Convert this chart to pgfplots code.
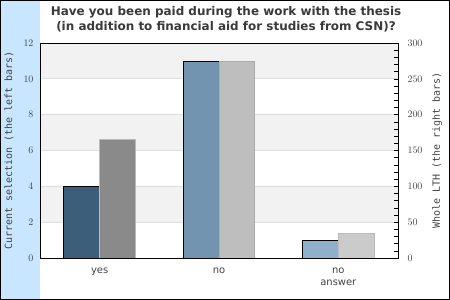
\documentclass[border=0pt]{standalone}
\usepackage{fontspec}
\setmainfont{DejaVu Sans}
\newfontfamily\monofont{DejaVu Sans Mono}
\usepackage{pgfplots}
\pgfplotsset{compat=1.18}
\definecolor{strip}{HTML}{C8E6FF}
\definecolor{band}{HTML}{F2F2F2}
\definecolor{gridc}{HTML}{DDDDDD}
\definecolor{lA}{HTML}{3D5E7A}
\definecolor{lB}{HTML}{7294B0}
\definecolor{lC}{HTML}{8EB0CC}
\definecolor{rA}{HTML}{8A8A8A}
\definecolor{rB}{HTML}{BEBEBE}
\definecolor{rC}{HTML}{CBCBCB}
\definecolor{rborder}{HTML}{BBBBBB}
\definecolor{txt}{HTML}{444444}
\definecolor{ttl}{HTML}{3A3A3A}
\begin{document}
\begin{tikzpicture}
\fill[white] (0bp,0bp) rectangle (450bp,300bp);
\fill[strip] (0bp,0bp) rectangle (40bp,300bp);
\useasboundingbox (0bp,0bp) rectangle (450bp,300bp);
\node[font=\fontsize{12}{15}\selectfont\bfseries, text=ttl, align=center] at (226bp,280.5bp)
  {Have you been paid during the work with the thesis\\(in addition to financial aid for studies from CSN)?};
\begin{axis}[
  at={(40bp,42bp)}, anchor=south west,
  scale only axis, width=358bp, height=215bp,
  xmin=-0.5, xmax=2.5, ymin=0, ymax=12,
  xtick={0,1,2}, xticklabels={yes,no,{no\\answer}},
  ytick={0,2,...,12},
  major tick length=0pt,
  tick label style={font=\fontsize{10}{12}\selectfont, text=txt},
  xticklabel style={align=center, anchor=north, yshift=-6.5bp},
  yticklabel style={xshift=-3bp},
  axis line style={black, line width=0.9bp},
  every axis y label/.style={at={(axis description cs:-0.0866,0.5)}, rotate=90, anchor=center,
    font=\monofont\fontsize{10}{12}\selectfont, text=txt},
  ylabel={Current selection (the left bars)},
]
\fill[band] (axis cs:-0.5,10) rectangle (axis cs:2.5,12);
\fill[band] (axis cs:-0.5,6) rectangle (axis cs:2.5,8);
\fill[band] (axis cs:-0.5,2) rectangle (axis cs:2.5,4);
\foreach \g in {2,4,6,8,10} {
  \edef\tmp{\noexpand\draw[gridc, line width=0.8bp] (axis cs:-0.5,\g) -- (axis cs:2.5,\g);}\tmp
}
\addplot[ybar, bar width=0.3, bar shift=-0.15, fill=lA, draw=black, line width=0.8bp] coordinates {(0,4)};
\addplot[ybar, bar width=0.3, bar shift=-0.15, fill=lB, draw=black, line width=0.8bp] coordinates {(1,11)};
\addplot[ybar, bar width=0.3, bar shift=-0.15, fill=lC, draw=black, line width=0.8bp] coordinates {(2,1)};
\end{axis}
\begin{axis}[
  at={(40bp,42bp)}, anchor=south west,
  scale only axis, width=358bp, height=215bp,
  xmin=-0.5, xmax=2.5, ymin=0, ymax=300,
  axis on top,
  xtick=\empty,
  ytick={0,50,...,300}, minor y tick num=4,
  ytick pos=right, yticklabel pos=right,
  tick align=inside,
  major tick length=4bp, minor tick length=4bp,
  tick style={black, line width=0.6bp},
  axis line style={black, line width=0.9bp},
  tick label style={font=\fontsize{10}{12}\selectfont, text=txt},
  yticklabel style={xshift=6bp},
  every axis y label/.style={at={(axis description cs:1.109,0.5)}, rotate=90, anchor=center,
    font=\monofont\fontsize{10}{12}\selectfont, text=txt},
  ylabel={Whole LTH (the right bars)},
]
\addplot[ybar, bar width=0.3, bar shift=0.15, fill=rA, draw=rborder, line width=0.8bp] coordinates {(0,166)};
\addplot[ybar, bar width=0.3, bar shift=0.15, fill=rB, draw=rB!90!black, line width=0.8bp] coordinates {(1,275)};
\addplot[ybar, bar width=0.3, bar shift=0.15, fill=rC, draw=rborder, line width=0.8bp] coordinates {(2,35)};
\end{axis}
\draw[black, line width=1bp] (0.5bp,0.5bp) rectangle (449.5bp,299.5bp);
\end{tikzpicture}
\end{document}
